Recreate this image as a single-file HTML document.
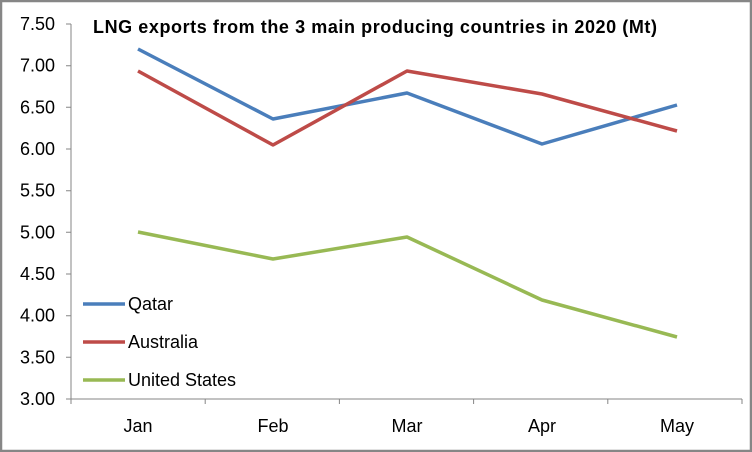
<!DOCTYPE html>
<html><head><style>body{margin:0}svg{display:block}</style></head><body>
<svg width="752" height="452" xmlns="http://www.w3.org/2000/svg" font-family="Liberation Sans, sans-serif">
<rect x="1" y="1" width="750" height="450" fill="#fff" stroke="#868686" stroke-width="2.5"/>
<g stroke="#868686" stroke-width="1">
<line x1="71" y1="24" x2="71" y2="399"/>
<line x1="71" y1="399" x2="742" y2="399"/>
<path d="M66 24H71M66 65.7H71M66 107.3H71M66 149H71M66 190.7H71M66 232.3H71M66 274H71M66 315.7H71M66 357.3H71M66 399H71"/>
<path d="M71 399V404M205.2 399V404M339.4 399V404M473.6 399V404M607.8 399V404M742 399V404"/>
</g>
<g font-size="18" fill="#000" text-anchor="end">
<text x="55" y="30">7.50</text><text x="55" y="71.7">7.00</text><text x="55" y="113.3">6.50</text>
<text x="55" y="155">6.00</text><text x="55" y="196.7">5.50</text><text x="55" y="238.3">5.00</text>
<text x="55" y="280">4.50</text><text x="55" y="321.7">4.00</text><text x="55" y="363.3">3.50</text>
<text x="55" y="405">3.00</text>
</g>
<g font-size="18" text-anchor="middle">
<text x="138" y="432">Jan</text><text x="273" y="432">Feb</text><text x="407" y="432">Mar</text>
<text x="542" y="432">Apr</text><text x="677" y="432">May</text>
</g>
<text x="93" y="33" font-size="18" font-weight="bold" textLength="564" lengthAdjust="spacing">LNG exports from the 3 main producing countries in 2020 (Mt)</text>
<g fill="none" stroke-width="3.5" stroke-linejoin="round">
<polyline stroke="#4a7ebb" points="138,49 273,119 407,93 542,144 677,105"/>
<polyline stroke="#be4b48" points="138,71 273,145 407,71 542,94 677,131"/>
<polyline stroke="#98b954" points="138,232 273,259 407,237 542,300 677,337"/>
<line stroke="#4a7ebb" x1="83" y1="304" x2="125" y2="304"/>
<line stroke="#be4b48" x1="83" y1="342" x2="125" y2="342"/>
<line stroke="#98b954" x1="83" y1="380" x2="125" y2="380"/>
</g>
<g font-size="18">
<text x="128" y="310">Qatar</text><text x="128" y="348">Australia</text><text x="128" y="386">United States</text>
</g>
</svg>
</body></html>
